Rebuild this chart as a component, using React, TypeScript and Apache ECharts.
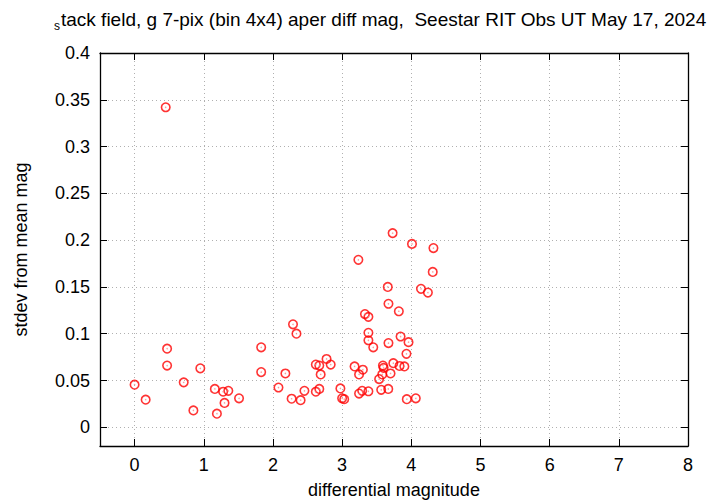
import React, { useEffect, useRef } from "react";
import * as echarts from "echarts";

const diffMag = [
  0.0, 0.16, 0.45, 0.47, 0.47, 0.71, 0.85, 0.95, 1.16, 1.19, 1.28, 1.3, 1.355, 1.51,
  1.83, 1.83, 2.08, 2.18, 2.29, 2.27, 2.34, 2.4, 2.455, 2.62, 2.67, 2.62, 2.67, 2.69,
  2.775, 2.835, 2.975, 3.0, 3.03, 3.18, 3.235, 3.245, 3.245, 3.3, 3.29, 3.33, 3.38,
  3.38, 3.38, 3.38, 3.45, 3.535, 3.565, 3.58, 3.59, 3.6, 3.66, 3.67, 3.67, 3.667, 3.7,
  3.73, 3.74, 3.82, 3.83, 3.845, 3.9, 3.93, 3.96, 3.935, 4.01, 4.065, 4.14, 4.24, 4.32,
  4.31,
];
const stdevMag = [
  0.0455, 0.0295, 0.342, 0.084, 0.066, 0.048, 0.018, 0.063, 0.041, 0.0145, 0.038, 0.026,
  0.039, 0.031, 0.0855, 0.059, 0.0425, 0.0575, 0.11, 0.0305, 0.1, 0.029, 0.039, 0.067,
  0.066, 0.038, 0.041, 0.0565, 0.073, 0.067, 0.0415, 0.031, 0.03, 0.065, 0.179, 0.0565,
  0.036, 0.0615, 0.039, 0.121, 0.118, 0.101, 0.093, 0.0385, 0.0855, 0.0515, 0.04, 0.0565,
  0.066, 0.0635, 0.15, 0.132, 0.09, 0.041, 0.0575, 0.2075, 0.0685, 0.124, 0.0655, 0.097,
  0.065, 0.0785, 0.091, 0.03, 0.196, 0.031, 0.148, 0.144, 0.1915, 0.166,
];
const xTicks = [0, 1, 2, 3, 4, 5, 6, 7, 8];
const yTicks = [0, 0.05, 0.1, 0.15, 0.2, 0.25, 0.3, 0.35, 0.4];
const titleSub = "s";
const titleMain = "tack field, g 7-pix (bin 4x4) aper diff mag,  Seestar RIT Obs UT May 17, 2024";
const xName = "differential magnitude";
const yName = "stdev from mean mag";

const FONT = "Liberation Sans, Arial, Helvetica, sans-serif";
const FS = 18;

export default function App() {
  const ref = useRef<HTMLDivElement>(null);
  useEffect(() => {
    if (!ref.current) return;
    const chart = echarts.init(ref.current, null, { renderer: "svg" });
    const data = diffMag.map((x, i) => [x, stdevMag[i]]);
    const gridLine = { show: true, lineStyle: { color: "#b0b0b0", type: [1, 3] as any, width: 1 } };
    const axisLine = { show: true, onZero: false, lineStyle: { color: "#000", width: 1.3 } };
    const tick = (vals: number[]) => ({
      show: true,
      inside: true,
      length: 7,
      customValues: vals,
      lineStyle: { color: "#000", width: 1 },
    });
    const label = (vals: number[]) => ({
      show: true,
      customValues: vals,
      color: "#000",
      fontSize: FS,
      fontFamily: FONT,
      margin: 10,
    });
    chart.setOption({
      animation: false,
      textStyle: { fontFamily: FONT },
      grid: { left: 100, right: 32, top: 53, bottom: 57, containLabel: false },
      graphic: [
        {
          type: "text",
          left: 54,
          top: 20,
          style: { text: titleSub, fontSize: 12, fontFamily: FONT, fill: "#000" },
        },
        {
          type: "text",
          left: 61,
          top: 10,
          style: { text: titleMain, fontSize: 19, fontFamily: FONT, fill: "#000" },
        },
      ],
      xAxis: [
        {
          type: "value",
          position: "bottom",
          min: -0.5,
          max: 8,
          axisLine,
          axisTick: tick(xTicks),
          axisLabel: label(xTicks),
          splitLine: { ...gridLine, customValues: xTicks },
          name: xName,
          nameLocation: "middle",
          nameGap: 35,
          nameTextStyle: { fontSize: FS, color: "#000", fontFamily: FONT },
        },
        {
          type: "value",
          position: "top",
          min: -0.5,
          max: 8,
          axisLine,
          axisTick: tick(xTicks),
          axisLabel: { show: false },
          splitLine: { show: false },
        },
      ],
      yAxis: [
        {
          type: "value",
          position: "left",
          min: -0.02,
          max: 0.4,
          axisLine,
          axisTick: tick(yTicks),
          axisLabel: label(yTicks),
          splitLine: { ...gridLine, customValues: yTicks },
          name: yName,
          nameLocation: "middle",
          nameGap: 70,
          nameTextStyle: { fontSize: FS, color: "#000", fontFamily: FONT },
        },
        {
          type: "value",
          position: "right",
          min: -0.02,
          max: 0.4,
          axisLine,
          axisTick: tick(yTicks),
          axisLabel: { show: false },
          splitLine: { show: false },
        },
      ],
      series: [
        {
          type: "scatter",
          xAxisIndex: 0,
          yAxisIndex: 0,
          data,
          symbol: "circle",
          symbolSize: 8.5,
          itemStyle: { color: "rgba(0,0,0,0)", borderColor: "#ff0000", borderWidth: 1.6 },
          z: 3,
        },
        {
          type: "scatter",
          xAxisIndex: 0,
          yAxisIndex: 0,
          data,
          symbol: "circle",
          symbolSize: 1.5,
          itemStyle: { color: "#ff8080" },
          z: 4,
        },
      ],
    });
    return () => chart.dispose();
  }, []);
  return (
    <div
      ref={ref}
      style={{ position: "absolute", left: 0, top: 0, width: 720, height: 504 }}
    />
  );
}
